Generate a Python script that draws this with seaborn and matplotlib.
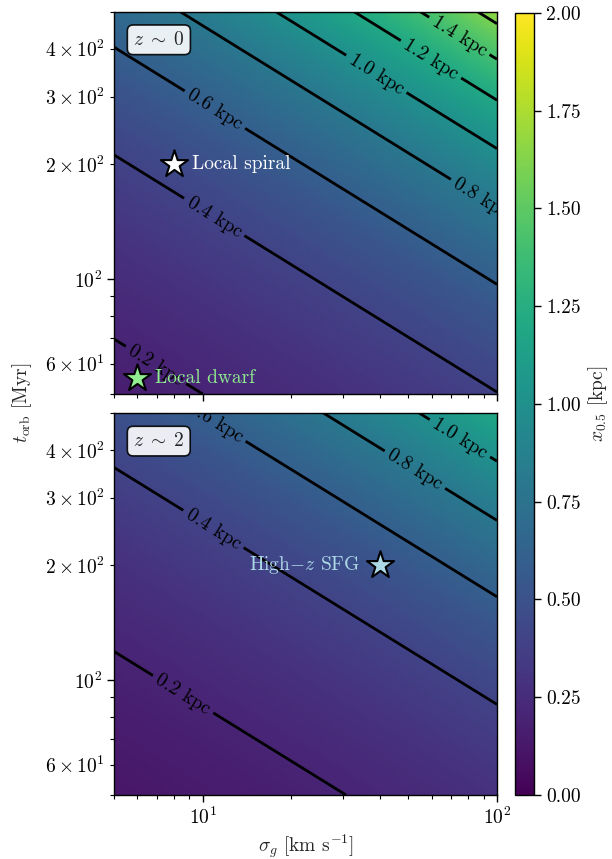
import numpy as np
import matplotlib
matplotlib.use("Agg")
import matplotlib.pyplot as plt
import seaborn as sns
import pandas as pd

# ---------------- data ----------------
sigma_limits = [5, 100]          # km/s
torb_limits = [50, 500]          # Myr
# x_0.5 field: log-linear in log(sigma), log(t_orb) (straight contours)
exp_sigma = 0.298
exp_torb = 0.625
panel_names = ["$z\\;\\sim\\;0$", "$z\\;\\sim\\;2$"]
panel_log_norm = [-2.059, -2.204]
contour_levels = [0.2, 0.4, 0.6, 0.8, 1.0, 1.2, 1.4, 1.6, 1.8, 2.0]
color_limits = [0.0, 2.0]

galaxy_names = ["Local spiral", "Local dwarf", "High$-z$ SFG"]
galaxy_sigma = [8, 6, 40]
galaxy_torb = [200, 55, 200]
galaxy_panel = [0, 0, 1]
galaxy_fill = ["white", "lightgreen", "lightblue"]

# ---------------- style ----------------
sns.set_style("ticks")
plt.rcParams["font.family"] = "serif"
plt.rcParams["font.serif"] = ["cmr10", "DejaVu Serif"]
plt.rcParams["mathtext.fontset"] = "cm"
plt.rcParams["axes.formatter.use_mathtext"] = True
plt.rcParams["axes.unicode_minus"] = False
plt.rcParams["font.size"] = 14
plt.rcParams["axes.linewidth"] = 1.0
plt.rcParams["axes.edgecolor"] = "black"
for ax_ in ("xtick", "ytick"):
    plt.rcParams[f"{ax_}.major.size"] = 5
    plt.rcParams[f"{ax_}.minor.size"] = 3
    plt.rcParams[f"{ax_}.major.width"] = 1.0
    plt.rcParams[f"{ax_}.minor.width"] = 0.8
    plt.rcParams[f"{ax_}.color"] = "black"
    plt.rcParams[f"{ax_}.labelsize"] = 14

cmap = sns.color_palette("viridis", as_cmap=True)

fig = plt.figure(figsize=(6.12, 8.59), dpi=100)
ax_top = fig.add_axes([0.1863, 0.5413, 0.6258, 0.4451])
ax_bot = fig.add_axes([0.1863, 0.0745, 0.6258, 0.4447], sharex=ax_top)
cax = fig.add_axes([0.8415, 0.0745, 0.0315, 0.9104])

sig = np.logspace(np.log10(sigma_limits[0]), np.log10(sigma_limits[1]), 120)
tor = np.logspace(np.log10(torb_limits[0]), np.log10(torb_limits[1]), 120)
S, T = np.meshgrid(sig, tor)

label_pos = [
    [(6.89, 59), (11.0, 146), (11.0, 277), (87.5, 161), (39.4, 349), (60, 378), (74.9, 435)],
    [(8.6, 92), (11.0, 252), (11.2, 480), (53.4, 362), (76.7, 443)],
]

axes = [ax_top, ax_bot]
for i, ax in enumerate(axes):
    field = 10 ** (panel_log_norm[i] + exp_sigma * np.log10(S) + exp_torb * np.log10(T))
    mesh = ax.pcolormesh(S, T, field, cmap=cmap, vmin=color_limits[0], vmax=color_limits[1],
                         shading="gouraud", rasterized=True)
    ax.set_xscale("log")
    ax.set_yscale("log")
    cs = ax.contour(S, T, field, levels=contour_levels, colors="black", linewidths=2.0)
    ax.clabel(cs, fmt=lambda v: f"{v:.1f} kpc", manual=label_pos[i], inline=True,
              fontsize=14, inline_spacing=5)
    ax.set_xlim(sigma_limits)
    ax.set_ylim(torb_limits)
    ax.text(0.05, 0.95, panel_names[i], transform=ax.transAxes, ha="left", va="top",
            fontsize=14,
            bbox=dict(boxstyle="round,pad=0.3", facecolor="white", alpha=0.9,
                      edgecolor="black", linewidth=1.2))
    for sp in ax.spines.values():
        sp.set_visible(True)

gal = pd.DataFrame({"name": galaxy_names, "sigma": galaxy_sigma, "torb": galaxy_torb,
                    "panel": galaxy_panel, "fill": galaxy_fill})
for _, row in gal.iterrows():
    ax = axes[row["panel"]]
    sns.scatterplot(x=[row["sigma"]], y=[row["torb"]], ax=ax, marker="*", s=420,
                    color=row["fill"], edgecolor="black", linewidth=1.5, zorder=10,
                    legend=False)

ax_top.text(9.18, 200, galaxy_names[0], color="white", ha="left", va="center", fontsize=14, zorder=11)
ax_top.text(6.89, 55, galaxy_names[1], color="lightgreen", ha="left", va="center", fontsize=14, zorder=11)
ax_bot.text(34.2, 200, galaxy_names[2], color="lightblue", ha="right", va="center", fontsize=14, zorder=11)

plt.setp(ax_top.get_xticklabels(), visible=False)
ax_top.set_xlabel("")
ax_top.set_ylabel("")
ax_bot.set_ylabel("")
ax_bot.set_xlabel(r"$\sigma_g$ [km s$^{-1}$]", fontsize=14, labelpad=3)
fig.text(0.036, 0.531, r"$t_{\rm orb}$ [Myr]", rotation=90, ha="center", va="center", fontsize=14)

cb = fig.colorbar(mesh, cax=cax)
cb.set_ticks([0.0, 0.25, 0.5, 0.75, 1.0, 1.25, 1.5, 1.75, 2.0])
cb.ax.yaxis.set_major_formatter(matplotlib.ticker.FormatStrFormatter("%.2f"))
cb.set_label(r"$x_{0.5}$ [kpc]", fontsize=14)
cb.outline.set_linewidth(1.0)

fig.savefig("out.png", dpi=100)
